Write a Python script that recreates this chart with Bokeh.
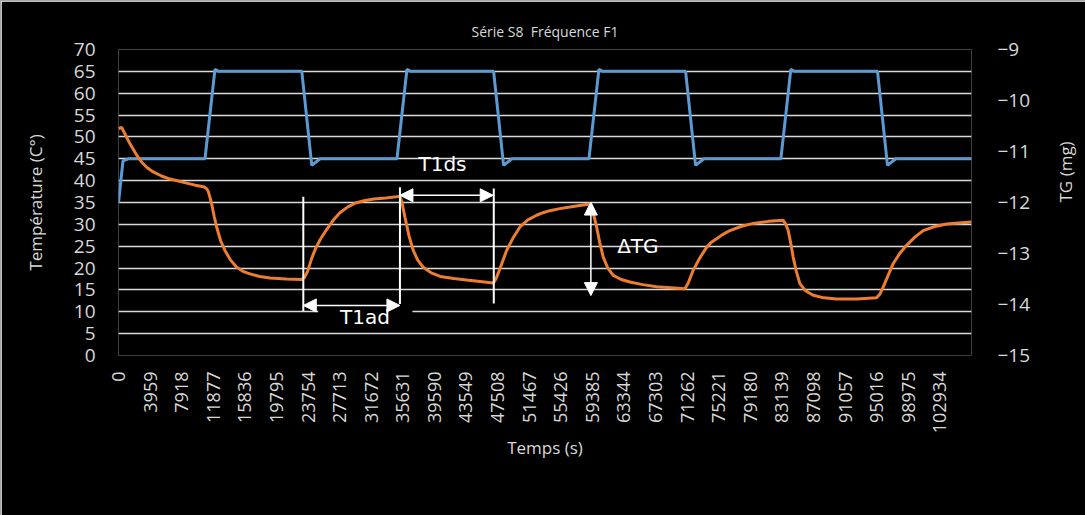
import math
from bokeh.plotting import figure
from bokeh.models import (Range1d, LinearAxis, FixedTicker, Legend, LegendItem,
                          Arrow, NormalHead, Label, BoxAnnotation)
from bokeh.embed import file_html
from bokeh.resources import INLINE

# ---------------- data ----------------
temp_t = [0, 560, 1200, 10840, 12090, 12500, 22970, 24220, 25260,
          34900, 36150, 36570, 47010, 48260, 49300,
          58960, 60210, 60620, 71070, 72320, 73360,
          83010, 84260, 84670, 95120, 96370, 97410, 106900]
temp_c = [35, 44.5, 45, 45, 65.5, 65, 65, 43.5, 45,
          45, 65.5, 65, 65, 43.5, 45,
          45, 65.5, 65, 65, 43.5, 45,
          45, 65.5, 65, 65, 43.5, 45, 45]

tg_t = [0, 400, 1440, 2200, 2910, 3600, 4360, 5400, 6450, 7500, 8550, 9600, 10630, 11000,
        11250, 11500, 11680, 12000, 12300, 12800, 13340, 14000, 14810, 15600, 16480, 17700,
        18980, 21000, 22950,
        23300, 23700, 24200, 24700, 25300, 26000, 26900, 27750, 28700, 29700, 30900, 32000,
        33500, 35270,
        35500, 35900, 36400, 36940, 37500, 38190, 39200, 40320, 42000, 43630, 45300, 46960,
        47300, 47800, 48640, 49500, 50310, 51300, 52400, 53200, 54070, 55300, 56570, 57800,
        59080,
        59400, 59920, 60300, 60750, 61300, 62000, 63000, 64090, 65700, 67440, 69200, 70980,
        71400, 72020, 72800, 73700, 74300, 74950, 75700, 76620, 78000, 79540, 81500, 83300,
        83600, 83930, 84250, 84550, 84950, 85390, 86100, 87060, 88400, 89990, 92500, 95000,
        95400, 95830, 96400, 97080, 97900, 98760, 99800, 100840, 102300, 103770, 105300, 106900]
tg_mg = [-10.55, -10.53, -10.85, -11.05, -11.21, -11.32, -11.40, -11.48, -11.54, -11.58, -11.62, -11.66, -11.69, -11.72,
         -11.78, -11.92, -12.03, -12.28, -12.48, -12.75, -12.94, -13.12, -13.27, -13.35, -13.40, -13.45,
         -13.48, -13.50, -13.51,
         -13.47, -13.35, -13.10, -12.90, -12.72, -12.55, -12.35, -12.20, -12.09, -12.01, -11.96, -11.93,
         -11.91, -11.88,
         -11.98, -12.29, -12.65, -12.94, -13.13, -13.27, -13.38, -13.45, -13.49, -13.52, -13.55, -13.58,
         -13.50, -13.30, -12.94, -12.68, -12.48, -12.34, -12.25, -12.20, -12.16, -12.12, -12.09, -12.06,
         -12.03,
         -12.15, -12.48, -12.78, -13.07, -13.28, -13.43, -13.51, -13.56, -13.61, -13.65, -13.67, -13.69,
         -13.58, -13.33, -13.10, -12.88, -12.78, -12.71, -12.63, -12.55, -12.47, -12.41, -12.37, -12.35,
         -12.42, -12.55, -12.80, -13.07, -13.35, -13.59, -13.73, -13.82, -13.87, -13.89, -13.89, -13.87,
         -13.80, -13.66, -13.45, -13.20, -13.00, -12.84, -12.68, -12.55, -12.47, -12.42, -12.40, -12.38]

x_tick_labels = ["0", "3959", "7918", "11877", "15836", "19795", "23754", "27713",
                 "31672", "35631", "39590", "43549", "47508", "51467", "55426",
                 "59385", "63344", "67303", "71262", "75221", "79180", "83139",
                 "87098", "91057", "95016", "98975", "102934"]
left_ticks = [0, 5, 10, 15, 20, 25, 30, 35, 40, 45, 50, 55, 60, 65, 70]
right_ticks = [-15, -14, -13, -12, -11, -10, -9]

title_text = "Série S8\u00a0\u00a0Fréquence F1"
series_names = ["Temperature four °C", "TG\u00a0\u00a0\u00a0mg"]

# ---------------- styling ----------------
TXT = "#d9d9d9"
FONT = "Open Sans"
BLUE = "#5b9bd5"
ORANGE = "#ed7d31"

p = figure(width=1077, height=507, frame_width=853, frame_height=306,
           output_backend="svg", toolbar_location=None,
           x_range=Range1d(0, 106900), y_range=Range1d(0, 70),
           background_fill_color="black", border_fill_color="black",
           outline_line_color=None,
           min_border_left=117, min_border_right=107, min_border_top=48,
           min_border_bottom=0)
p.styles = {"border": "1px solid #a6a6a6"}

p.title.text = title_text
p.title.align = "center"
p.title.text_color = TXT
p.title.text_font = FONT
p.title.text_font_size = "14px"
p.title.text_font_style = "normal"
p.title.standoff = 17

# grid
p.xgrid.visible = False
p.ygrid.ticker = FixedTicker(ticks=left_ticks)
p.ygrid.grid_line_color = TXT
p.ygrid.grid_line_width = 1.5

def style_axis(ax, standoff, size="19px"):
    ax.axis_line_color = None
    ax.major_tick_line_color = None
    ax.minor_tick_line_color = None
    ax.major_tick_out = 0
    ax.major_tick_in = 0
    ax.minor_tick_out = 0
    ax.major_label_standoff = standoff
    ax.major_label_text_color = TXT
    ax.major_label_text_font = FONT
    ax.major_label_text_font_size = size
    ax.axis_label_text_color = TXT
    ax.axis_label_text_font = FONT
    ax.axis_label_text_font_size = "17px"
    ax.axis_label_text_font_style = "normal"

# left axis
ya = p.yaxis[0]
ya.ticker = FixedTicker(ticks=left_ticks)
style_axis(ya, 23)
ya.axis_label = "Température (C°)"
ya.axis_label_standoff = 24

# right axis
p.extra_y_ranges = {"tg": Range1d(-15, -9)}
ra = LinearAxis(y_range_name="tg", ticker=FixedTicker(ticks=right_ticks))
style_axis(ra, 26)
ra.axis_label = "TG (mg)"
ra.axis_label_standoff = 32
ra.axis_label_orientation = math.pi / 2
p.add_layout(ra, "right")

# x axis
xa = p.xaxis[0]
x_ticks = [int(s) for s in x_tick_labels]
xa.ticker = FixedTicker(ticks=x_ticks)
xa.major_label_overrides = {t: s for t, s in zip(x_ticks, x_tick_labels)}
xa.major_label_orientation = math.pi / 2
style_axis(xa, 16, "18px")
xa.axis_label = "Temps (s)"
xa.axis_label_standoff = 0

# series
r1 = p.line(temp_t, temp_c, line_color=BLUE, line_width=3)
r2 = p.line(tg_t, tg_mg, y_range_name="tg", line_color=ORANGE, line_width=3)

legend = Legend(items=[LegendItem(label=series_names[0], renderers=[r1]),
                       LegendItem(label=series_names[1], renderers=[r2])],
                orientation="horizontal", location=(239, 14),
                background_fill_alpha=0, border_line_color=None,
                label_text_color=TXT, label_text_font=FONT,
                label_text_font_size="19px", glyph_width=38, spacing=60,
                label_standoff=3, padding=0, margin=0)
p.add_layout(legend, "below")

# ---------------- annotations ----------------
p.add_layout(BoxAnnotation(left=25030, right=36840, bottom=7.1, top=12.8,
                           fill_color="black", fill_alpha=1, line_color=None))

def vline(x, y0, y1):
    p.add_layout(Arrow(start=None, end=None, x_start=x, y_start=y0, x_end=x, y_end=y1,
                       line_color="white", line_width=2))

vline(23160, 36.3, 10.2)
vline(35270, 38.5, 11.8)
vline(47030, 38.2, 11.9)

def head():
    return NormalHead(size=13, fill_color="white", line_color="white")

p.add_layout(Arrow(start=head(), end=head(), x_start=23160, y_start=11.45,
                   x_end=35270, y_end=11.45, line_color="white", line_width=1.5))
p.add_layout(Arrow(start=head(), end=head(), x_start=35270, y_start=36.65,
                   x_end=46960, y_end=36.65, line_color="white", line_width=1.5))
p.add_layout(Arrow(start=head(), end=head(), x_start=59200, y_start=13.7,
                   x_end=59200, y_end=35.1, line_color="white", line_width=1.5))

for tx, ty, txt in [(30890, 8.77, "T1ad"), (40600, 43.7, "T1ds"), (65090, 24.97, "ΔTG")]:
    p.add_layout(Label(x=tx, y=ty, text=txt, text_align="center", text_baseline="middle",
                       text_color="white", text_font="DejaVu Sans", text_font_size="20px"))

open("out.html", "w").write(file_html(p, INLINE))
